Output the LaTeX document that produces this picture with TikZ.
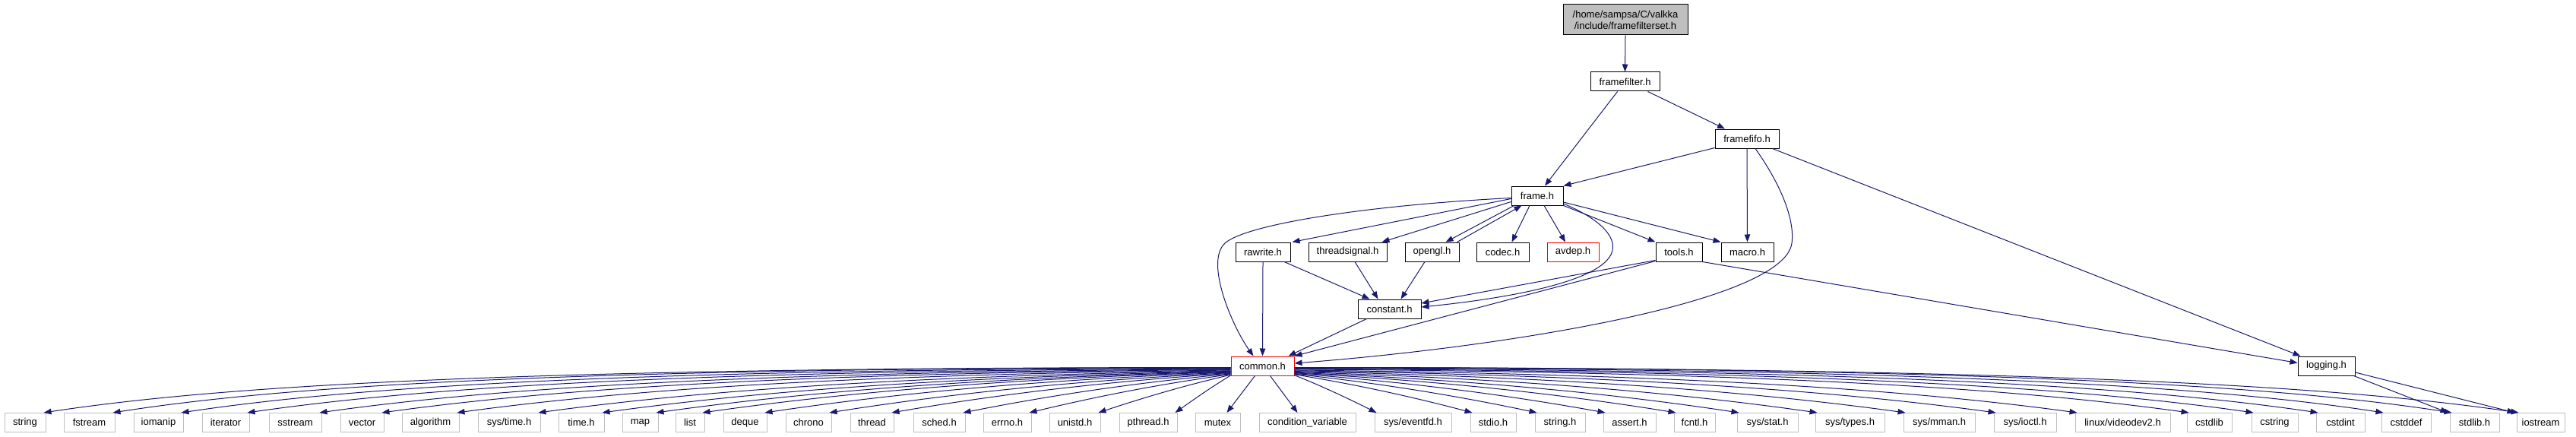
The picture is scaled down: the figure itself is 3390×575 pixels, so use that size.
\documentclass[tikz,border=0pt]{standalone}
\usepackage{fontspec}
\setmainfont{Liberation Sans}
\usetikzlibrary{arrows.meta}
\definecolor{edgec}{HTML}{191970}
\definecolor{extc}{HTML}{BFBFBF}
\tikzset{
  box/.style={draw=black, line width=1pt, fill=white, inner sep=0pt, minimum height=25pt, font=\fontsize{13}{15}\selectfont, text=black},
  redbox/.style={box, draw=red},
  extbox/.style={box, draw=extc},
  dep/.style={draw=edgec, line width=1pt, -{Triangle[length=10pt,width=7.5pt]}},
}
\begin{document}
\begin{tikzpicture}[x=1pt,y=-1pt]
\useasboundingbox (0,0) rectangle (3390,575);
% upper nodes
\node[box, fill=extc, minimum width=164pt, minimum height=40pt, align=center] (top) at (2139,26) {/home/sampsa/C/valkka\\/include/framefilterset.h};
\node[box, minimum width=91pt] (framefilter) at (2138.5,107.5) {framefilter.h};
\node[box, minimum width=84pt] (framefifo) at (2299,182.5) {framefifo.h};
\node[box, minimum width=68pt] (frame) at (2023,257.5) {frame.h};
\node[box, minimum width=72pt] (rawrite) at (1662,331.5) {rawrite.h};
\node[box, minimum width=103pt] (threadsignal) at (1773.5,331.5) {threadsignal.h};
\node[box, minimum width=71pt] (opengl) at (1884.5,331.5) {opengl.h};
\node[box, minimum width=69pt] (codec) at (1977.5,331.5) {codec.h};
\node[redbox, minimum width=68pt] (avdep) at (2070,331.5) {avdep.h};
\node[box, minimum width=61pt] (tools) at (2209.5,331.5) {tools.h};
\node[box, minimum width=69pt] (macro) at (2299.5,331.5) {macro.h};
\node[box, minimum width=83pt] (constant) at (1828.5,406.5) {constant.h};
\node[redbox, minimum width=83pt] (common) at (1661.5,481.5) {common.h};
\node[box, minimum width=75pt] (logging) at (3061.5,481.5) {logging.h};
% bottom row
\node[extbox, minimum width=54pt] (string) at (33,556) {string};
\node[extbox, minimum width=67pt] (fstream) at (117.5,556) {fstream};
\node[extbox, minimum width=65pt] (iomanip) at (208.5,556) {iomanip};
\node[extbox, minimum width=62pt] (iterator) at (297,556) {iterator};
\node[extbox, minimum width=69pt] (sstream) at (388.5,556) {sstream};
\node[extbox, minimum width=57pt] (vector) at (476.5,556) {vector};
\node[extbox, minimum width=75pt] (algorithm) at (566.5,556) {algorithm};
\node[extbox, minimum width=82pt] (systime) at (670,556) {sys/time.h};
\node[extbox, minimum width=60pt] (timeh) at (765,556) {time.h};
\node[extbox, minimum width=47pt] (map) at (842.5,556) {map};
\node[extbox, minimum width=38pt] (list) at (908,556) {list};
\node[extbox, minimum width=57pt] (deque) at (980.5,556) {deque};
\node[extbox, minimum width=60pt] (chrono) at (1064,556) {chrono};
\node[extbox, minimum width=57pt] (thread) at (1147.5,556) {thread};
\node[extbox, minimum width=68pt] (sched) at (1236,556) {sched.h};
\node[extbox, minimum width=63pt] (errno) at (1325.5,556) {errno.h};
\node[extbox, minimum width=67pt] (unistd) at (1414.5,556) {unistd.h};
\node[extbox, minimum width=76pt] (pthread) at (1511,556) {pthread.h};
\node[extbox, minimum width=59pt] (mutex) at (1602.5,556) {mutex};
\node[extbox, minimum width=127pt] (condvar) at (1720.5,556) {condition\_variable};
\node[extbox, minimum width=101pt] (eventfd) at (1859.5,556) {sys/eventfd.h};
\node[extbox, minimum width=60pt] (stdio) at (1965,556) {stdio.h};
\node[extbox, minimum width=66pt] (stringh) at (2053,556) {string.h};
\node[extbox, minimum width=69pt] (assert) at (2144.5,556) {assert.h};
\node[extbox, minimum width=54pt] (fcntl) at (2230,556) {fcntl.h};
\node[extbox, minimum width=80pt] (sysstat) at (2326,556) {sys/stat.h};
\node[extbox, minimum width=91pt] (systypes) at (2434.5,556) {sys/types.h};
\node[extbox, minimum width=94pt] (sysmman) at (2552,556) {sys/mman.h};
\node[extbox, minimum width=82pt] (sysioctl) at (2665,556) {sys/ioctl.h};
\node[extbox, minimum width=125pt] (videodev) at (2793.5,556) {linux/videodev2.h};
\node[extbox, minimum width=59pt] (cstdlib) at (2907.5,556) {cstdlib};
\node[extbox, minimum width=61pt] (cstring) at (2993.5,556) {cstring};
\node[extbox, minimum width=64pt] (cstdint) at (3080,556) {cstdint};
\node[extbox, minimum width=65pt] (cstddef) at (3166.5,556) {cstddef};
\node[extbox, minimum width=65pt] (stdlibh) at (3256.5,556) {stdlib.h};
\node[extbox, minimum width=63pt] (iostream) at (3343.5,556) {iostream};
% upper edges
\draw[dep] (top.south) -- (framefilter.north);
\draw[dep] ([xshift=-10pt]framefilter.south) -- ([xshift=10pt]frame.north);
\draw[dep] ([xshift=30pt]framefilter.south) -- ([xshift=-29pt]framefifo.north);
\draw[dep] ([yshift=1pt]framefifo.south west) -- (frame.north east);
\draw[dep] (framefifo.south) -- (macro.north);
\draw[dep] ([xshift=11pt]framefifo.south) .. controls (2345,245) and (2362,290) .. (2358,320)
   .. controls (2348,395) and (2000,455) .. ([yshift=3.5pt]common.east);
\draw[dep] ([xshift=-9pt]framefifo.south east) -- ([xshift=4pt]logging.north west);
\draw[dep] ([yshift=-4pt]frame.west) -- ([xshift=2pt]rawrite.north east);
\draw[dep] ([yshift=-8pt]frame.west) -- ([xshift=-7pt]threadsignal.north east);
\draw[dep] ([xshift=4pt]frame.south west) -- ([xshift=-18pt]opengl.north east);
\draw[dep] ([xshift=-3pt]opengl.north east) -- ([xshift=14pt]frame.south west);
\draw[dep] ([xshift=-10pt]frame.south) -- ([xshift=12pt]codec.north);
\draw[dep] ([xshift=9pt]frame.south) -- ([xshift=-10pt]avdep.north);
\draw[dep] (frame.south east) -- (tools.north west);
\draw[dep] ([yshift=-8.5pt]frame.east) -- (macro.north west);
\draw[dep] ([yshift=-3pt]frame.west) .. controls (1800,270) and (1640,295) .. (1612,320)
   .. controls (1585,345) and (1622,430) .. ([xshift=-12pt]common.north);
\draw[dep] ([yshift=-10.5pt]frame.east) .. controls (2110,290) and (2130,315) .. (2120,335)
   .. controls (2100,375) and (1960,395) .. ([yshift=2.5pt]constant.east);
\draw[dep] ([yshift=2pt]tools.south west) -- ([yshift=7.5pt]constant.east);
\draw[dep] ([yshift=1pt]tools.south west) -- (common.north east);
\draw[dep] (tools.south east) -- ([yshift=4pt]logging.west);
\draw[dep] (rawrite.south) -- (common.north);
\draw[dep] ([xshift=28pt]rawrite.south) -- ([xshift=-26pt]constant.north);
\draw[dep] ([xshift=9.5pt]threadsignal.south) -- ([xshift=-15pt]constant.north);
\draw[dep] ([xshift=-9.5pt]opengl.south) -- ([xshift=15pt]constant.north);
\draw[dep] ([xshift=-30pt]constant.south) -- ([xshift=-8pt]common.north east);
\draw[dep] ([xshift=-2pt]logging.south east) -- ([xshift=-2pt]stdlibh.north west);
\draw[dep] ([yshift=-8.5pt]logging.east) -- ([xshift=-2pt]iostream.north west);
% common.h to bottom row
\draw[dep] ([xshift=-10pt]common.south) -- ([xshift=12pt]mutex.north);
\draw[dep] ([xshift=10pt]common.south) -- ([xshift=-13pt]condvar.north);
\foreach \nm/\r in {string/60, fstream/151, iomanip/241, iterator/328, sstream/423, vector/505, algorithm/604, systime/711, timeh/795, map/866, list/927, deque/1009, chrono/1094, thread/1176, sched/1270, errno/1357, unistd/1448, pthread/1549}{
  \pgfmathsetmacro\cdx{1620-\r+3}
  \pgfmathsetmacro\cf{min(1,\cdx/1500)}
  \pgfmathsetmacro\csy{2+11*(1-\cf)}
  \pgfmathsetmacro\cdy{543-481.5-\csy}
  \pgfmathsetmacro\cax{(0.33+0.27*\cf)*\cdx}
  \pgfmathsetmacro\cay{0.33*\cdy*(1-\cf)}
  \pgfmathsetmacro\cbx{(0.33-0.18*\cf)*\cdx}
  \pgfmathsetmacro\cby{(0.33+0.27*\cf)*\cdy}
  \draw[dep] ([yshift={-\csy*1pt}]common.west) .. controls +(-\cax,\cay) and +(\cbx,-\cby) .. ([xshift=-3pt]\nm.north east);
}
\foreach \nm/\l in {eventfd/1809, stdio/1935, stringh/2020, assert/2110, fcntl/2203, sysstat/2286, systypes/2389, sysmman/2505, sysioctl/2624, videodev/2731, cstdlib/2878, cstring/2963, cstdint/3048, cstddef/3134, stdlibh/3224, iostream/3312}{
  \pgfmathsetmacro\cdx{\l+3-1703}
  \pgfmathsetmacro\cf{min(1,\cdx/1500)}
  \pgfmathsetmacro\csy{2+11*(1-\cf)}
  \pgfmathsetmacro\cdy{543-481.5-\csy}
  \pgfmathsetmacro\cax{(0.33+0.27*\cf)*\cdx}
  \pgfmathsetmacro\cay{0.33*\cdy*(1-\cf)}
  \pgfmathsetmacro\cbx{(0.33-0.18*\cf)*\cdx}
  \pgfmathsetmacro\cby{(0.33+0.27*\cf)*\cdy}
  \draw[dep] ([yshift={-\csy*1pt}]common.east) .. controls +(\cax,\cay) and +(-\cbx,-\cby) .. ([xshift=3pt]\nm.north west);
}
\end{tikzpicture}
\end{document}
